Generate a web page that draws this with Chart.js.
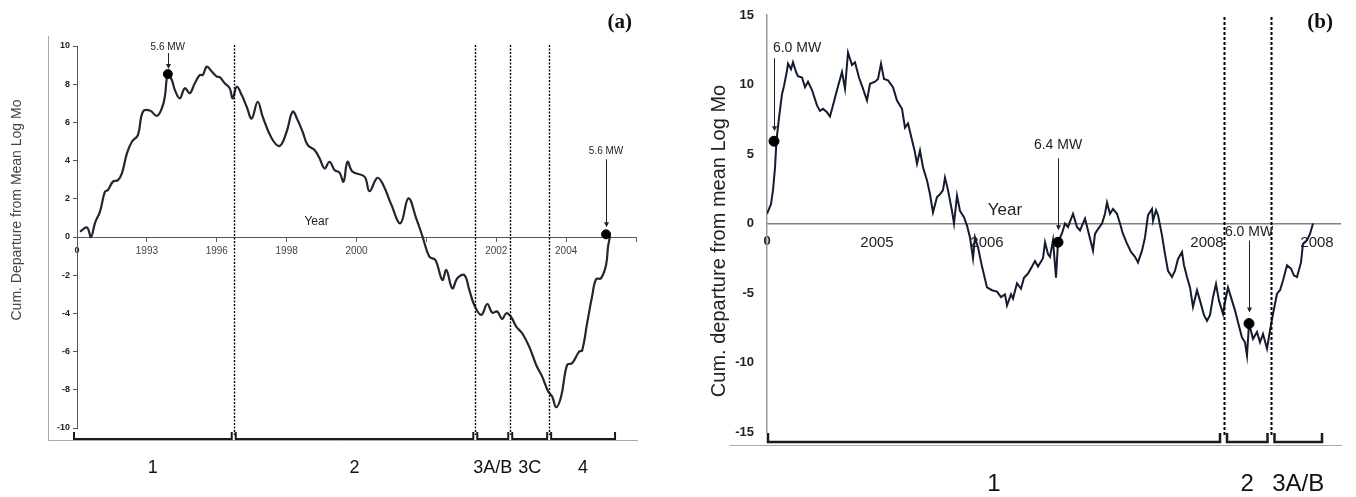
<!DOCTYPE html>
<html>
<head>
<meta charset="utf-8">
<title>Cumulative departure from mean Log Mo</title>
<script src="https://cdn.jsdelivr.net/npm/chart.js@4.4.0/dist/chart.umd.min.js"></script>
<style>
  html, body { margin: 0; padding: 0; background: #fff; }
  #wrap { position: relative; width: 1356px; height: 497px; }
  .panel { position: absolute; top: 0; width: 678px; height: 497px; }
</style>
</head>
<body>
<div id="wrap">
  <div class="panel" style="left:0"><canvas id="chartA" width="678" height="497"></canvas></div>
  <div class="panel" style="left:678px"><canvas id="chartB" width="678" height="497"></canvas></div>
</div>
<script>
// ---- panel (a) ----
// time index along the x axis (0 = start of record, 560 = end of axis)
const timeA = [3,10,14,18,23,28,31,36,41,45, 50,55,61,66,73,80,85,88,91,95,
  98,103,108,113,118,123,126,130,135,140, 143,148,153,156,160,165,170,175,181,186,
  195,203,210,216,221,226,231,238,243,248, 253,258,263,267,271,276,288,293,301,307,
  315,324,332,340,346,353,359,366,370,376, 381,388,393,398,405,411,416,421,426,430,
  435,440,446,453,460,466,472,476,480,485, 491,496,503,506,511,516,520,525,530,532, 534];
const cumA = [0.28,0.5,0.0,0.73,1.33,2.37,2.46,2.9,2.98,3.33, 4.38,4.99,5.34,6.56,6.62,6.34,6.74,7.35,8.53,8.22,
  7.7,7.26,7.79,7.53,8.05,8.48,8.48,8.92,8.66,8.4, 8.37,8.05,7.79,7.26,7.87,7.43,6.82,6.2,7.08,6.3,
  5.17,4.77,5.51,6.56,6.13,5.51,4.82,4.55,4.12,3.59, 3.94,3.51,3.37,2.9,3.94,3.42,3.16,2.4,3.1,2.7,
  1.68,0.72,2.02,0.95,0.05,-1.03,-1.2,-2.25,-1.73,-2.69, -2.16,-1.99,-2.77,-3.56,-4.08,-3.51,-3.96,-3.9,-4.3,-3.99,
  -4.2,-4.69,-5.04,-5.74,-6.7,-7.31,-8.09,-8.35,-8.91,-8.35, -6.7,-6.61,-6.0,-5.95,-4.52,-3.12,-2.21,-2.16,-1.47,-0.51, 0.05];
const xLabelsA = ["0","1993","1996","1998","2000","","2002","2004",""];
const quakeTimeA = [91, 530];
const quakeCumA = [8.53, 0.14];
const quakeNamesA = ["5.6 MW", "5.6 MW"];
const boundsA = [157, 399, 434, 473];
const phasesA = ["1", "2", "3A/B", "3C", "4"];

// ---- panel (b) ----
const timeB = [0,4,6,8,9.5,12,15,17,20,21,
  24,26,29,31,35,38,41,45,50,53,
  56,60,63,66,70,75,78,81,85,88,
  92,96,100,103,108,111,114,117,121,126,
  130,135,138,141,145,148,150,153,156,160,
  163,166,170,173,176,178,181,185,187,190,
  193,197,200,203,206,208,211,215,220,225,
  230,234,238,240,244,246,250,254,257,261,
  265,268,271,276,278,281,283,286,289,291,
  295,298,301,306,310,313,318,321,326,328,
  331,335,338,340,343,346,350,353,356,360,
  364,368,371,375,378,381,385,386,389,391,
  395,398,401,405,408,411,415,417,420,423,
  426,430,433,437,440,443,446,449,452,456,
  458,461,465,468,471,475,478,480,482,486,
  490,493,496,500,503,506,510,513,516,520,
  524,527,530,534,536,540,543,546];
const cumB = [0.7,1.4,2.4,4.0,6.0,7.6,9.3,9.9,11.0,11.5,
  11.1,11.6,10.9,10.6,10.5,9.8,10.2,9.6,8.5,8.1,
  8.25,8.0,7.7,8.5,9.6,10.9,9.7,12.3,11.4,11.6,
  10.5,9.7,8.85,10.05,10.2,10.4,11.5,10.4,10.3,9.8,
  8.85,8.25,6.9,7.2,6.0,5.1,4.3,5.25,4.05,3.1,
  2.1,0.8,1.9,2.1,2.4,3.3,2.4,0.9,0.0,2.0,
  0.9,0.45,-0.15,-1.0,-2.5,-1.0,-1.7,-3.1,-4.6,-4.8,
  -4.9,-5.3,-5.1,-5.9,-5.1,-5.4,-4.3,-4.7,-3.9,-3.6,
  -3.1,-2.7,-3.1,-2.5,-1.35,-2.2,-2.4,-1.2,-3.9,-1.35,
  -0.7,0.0,-0.25,0.7,-0.25,-0.5,0.35,-0.5,-1.95,-0.75,
  -0.4,0.0,0.7,1.5,0.7,1.05,0.7,0.0,-0.75,-1.45,
  -2.05,-2.4,-2.8,-1.95,-1.0,0.6,1.05,0.2,0.95,0.6,
  -0.85,-2.2,-3.4,-3.85,-3.4,-2.55,-2.05,-3.0,-3.85,-4.6,
  -6.0,-4.8,-5.55,-6.6,-7.0,-6.6,-5.3,-4.35,-5.55,-6.5,
  -5.65,-4.6,-5.55,-6.25,-7.1,-8.2,-8.55,-9.5,-7.2,-8.3,
  -7.8,-8.55,-7.95,-9.0,-7.7,-6.5,-5.05,-4.8,-4.1,-3.0,
  -3.25,-3.75,-3.85,-2.8,-1.45,-1.2,-0.75,0.0];
const xLabelsB = ["0","2005","2006","","2008","2008"];
const quakeTimeB = [7, 291, 482];
const quakeCumB = [5.92, -1.35, -7.2];
const quakeNamesB = ["6.0 MW", "6.4 MW", "6.0 MW"];
const boundsB = [456.5, 504];
const phasesB = ["1", "2", "3A/B"];

Chart.defaults.font.family = "'Liberation Sans', Arial, sans-serif";
Chart.defaults.color = '#222';

function toPoints(xs, ys) {
  const n = Math.min(xs.length, ys.length);
  const pts = [];
  for (let i = 0; i < n; i++) pts.push({x: xs[i], y: ys[i]});
  return pts;
}

// draws the frame, dashed phase lines, brackets, quake arrows and free text
const decorPlugin = {
  id: 'decor',
  afterDatasetsDraw(chart, args, o) {
    const {ctx, chartArea: ca, scales: {x, y}} = chart;
    ctx.save();

    // light frame
    ctx.strokeStyle = '#a9a9a9';
    ctx.lineWidth = 1;
    const fx = Math.round(ca.left + o.frame.left) + 0.5;
    const fy = Math.round(ca.bottom + o.frame.bottom) + 0.5;
    ctx.beginPath();
    if (o.frame.side) { ctx.moveTo(fx, ca.top + o.frame.top); ctx.lineTo(fx, fy); }
    ctx.moveTo(fx, fy); ctx.lineTo(ca.right + 2, fy);
    ctx.stroke();

    // dashed phase boundaries
    ctx.strokeStyle = '#000';
    ctx.lineWidth = o.dash.width;
    ctx.setLineDash(o.dash.pattern);
    o.bounds.forEach(b => {
      const px = Math.round(x.getPixelForValue(b)) + 0.5;
      ctx.beginPath();
      ctx.moveTo(px, ca.top + o.dash.top);
      ctx.lineTo(px, ca.bottom + o.dash.bottom);
      ctx.stroke();
    });
    ctx.setLineDash([]);

    // phase brackets and their names
    const edges = [o.phaseStart].concat(o.bounds, [o.phaseEnd]);
    const by = ca.bottom + o.bracket.y;
    ctx.strokeStyle = '#1a1a1a';
    ctx.fillStyle = '#111';
    ctx.lineWidth = o.bracket.width;
    ctx.font = o.bracket.font;
    ctx.textAlign = 'center';
    ctx.textBaseline = 'middle';
    o.phases.forEach((name, i) => {
      const x1 = x.getPixelForValue(edges[i]) + (i > 0 ? o.bracket.gap : 0);
      const x2 = x.getPixelForValue(edges[i + 1]) - (i < o.phases.length - 1 ? o.bracket.gap : 0);
      ctx.beginPath();
      ctx.moveTo(x1, by - o.bracket.tick);
      ctx.lineTo(x1, by);
      ctx.lineTo(x2, by);
      ctx.lineTo(x2, by - o.bracket.tick);
      ctx.stroke();
      ctx.fillText(name, (x1 + x2) / 2, ca.bottom + o.bracket.labelY);
    });

    // earthquake labels with arrows
    const meta = chart.getDatasetMeta(0);
    ctx.font = o.quake.font;
    ctx.fillStyle = '#222';
    ctx.strokeStyle = '#222';
    ctx.lineWidth = 1;
    meta.data.forEach((pt, i) => {
      const p = o.quake.place[i];
      const ty = pt.y - p.rise;
      ctx.fillText(o.quake.names[i], pt.x + p.dx, ty);
      const ax = Math.round(pt.x) + 0.5;
      const y2 = pt.y - p.stop;
      ctx.beginPath();
      ctx.moveTo(ax, ty + p.gap);
      ctx.lineTo(ax, y2 - 4);
      ctx.stroke();
      ctx.beginPath();
      ctx.moveTo(ax - 2.5, y2 - 5);
      ctx.lineTo(ax + 2.5, y2 - 5);
      ctx.lineTo(ax, y2);
      ctx.closePath();
      ctx.fill();
    });

    // "Year" beside the zero line
    ctx.font = o.year.font;
    ctx.fillStyle = '#222';
    ctx.fillText('Year', x.getPixelForValue(o.year.at), y.getPixelForValue(0) - o.year.rise);

    // panel letter
    ctx.font = 'bold 21px "Liberation Serif", serif';
    ctx.textAlign = 'right';
    ctx.fillStyle = '#111';
    ctx.fillText(o.letter, ca.right + o.letterDx, 23);

    // y title
    ctx.save();
    ctx.translate(o.ytitle.x, o.ytitle.y);
    ctx.rotate(-Math.PI / 2);
    ctx.textAlign = 'center';
    ctx.font = o.ytitle.font;
    ctx.fillStyle = o.ytitle.color;
    ctx.fillText(o.ytitle.text, 0, 0);
    ctx.restore();

    ctx.restore();
  }
};

new Chart(document.getElementById('chartA'), {
  type: 'scatter',
  plugins: [decorPlugin],
  data: {
    datasets: [{
      data: toPoints(quakeTimeA, quakeCumA),
      backgroundColor: '#000',
      borderColor: '#000',
      pointRadius: 4.5
    }, {
      data: toPoints(timeA, cumA),
      showLine: true,
      borderColor: '#23262f',
      borderWidth: 2.2,
      tension: 0.4,
      pointRadius: 0
    }]
  },
  options: {
    responsive: false,
    animation: false,
    layout: { padding: { left: 0, right: 42, top: 46, bottom: 69 } },
    plugins: {
      legend: { display: false },
      tooltip: { enabled: false },
      decor: {
        frame: { left: -29, top: -10, bottom: 12, side: true },
        dash: { width: 1.4, pattern: [2, 1.5], top: -1, bottom: 7 },
        bounds: boundsA,
        phaseStart: -3,
        phaseEnd: 539,
        phases: phasesA,
        bracket: { y: 11, tick: 7, gap: 2, width: 2, font: '18px "Liberation Sans", Arial', labelY: 40 },
        quake: {
          names: quakeNamesA,
          font: '10px "Liberation Sans", Arial',
          place: [{ rise: 27, dx: 0, gap: 6, stop: 5 }, { rise: 83, dx: 0, gap: 8, stop: 7 }]
        },
        year: { at: 240, rise: 15, font: '12px "Liberation Sans", Arial' },
        letter: '(a)',
        letterDx: -4,
        ytitle: { x: 17, y: 210, text: 'Cum. Departure from Mean Log Mo', font: '14px "Liberation Sans", Arial', color: '#444' }
      }
    },
    scales: {
      x: {
        type: 'linear',
        position: { y: 0 },
        min: 0,
        max: 560,
        afterFit: s => { s.height = 0; },
        ticks: {
          stepSize: 70,
          autoSkip: false,
          maxRotation: 0,
          padding: 4,
          callback: (v, i) => xLabelsA[i] || '',
          font: c => c.index === 0 ? { size: 9, weight: 'bold' } : { size: 10 },
          color: c => c.index === 0 ? '#222' : '#444'
        },
        grid: { drawOnChartArea: false, tickLength: 4, color: '#666' },
        border: { color: '#555', width: 1 }
      },
      y: {
        min: -10,
        max: 10,
        afterFit: s => { s.width = 77; },
        ticks: { stepSize: 2, padding: 3, font: { size: 9, weight: 'bold' }, color: '#222' },
        grid: { drawOnChartArea: false, tickLength: 4, color: '#555' },
        border: { color: '#555', width: 1 }
      }
    }
  }
});

new Chart(document.getElementById('chartB'), {
  type: 'scatter',
  plugins: [decorPlugin],
  data: {
    datasets: [{
      data: toPoints(quakeTimeB, quakeCumB),
      backgroundColor: '#000',
      borderColor: '#000',
      pointRadius: 5
    }, {
      data: toPoints(timeB, cumB),
      showLine: true,
      borderColor: '#141a30',
      borderWidth: 2,
      tension: 0,
      pointRadius: 0
    }]
  },
  options: {
    responsive: false,
    animation: false,
    layout: { padding: { left: 0, right: 16, top: 15, bottom: 65 } },
    plugins: {
      legend: { display: false },
      tooltip: { enabled: false },
      decor: {
        frame: { left: -38, top: 0, bottom: 13, side: false },
        dash: { width: 2, pattern: [3, 2], top: 2, bottom: 5 },
        bounds: boundsB,
        phaseStart: 1,
        phaseEnd: 555,
        phases: phasesB,
        bracket: { y: 10, tick: 9, gap: 3.5, width: 2.5, font: '24px "Liberation Sans", Arial', labelY: 52 },
        quake: {
          names: quakeNamesB,
          font: '14px "Liberation Sans", Arial',
          place: [{ rise: 93, dx: 23, gap: 10, stop: 10 }, { rise: 97, dx: 0, gap: 13, stop: 12 }, { rise: 91, dx: 0, gap: 8, stop: 11 }]
        },
        year: { at: 238, rise: 13, font: '17px "Liberation Sans", Arial' },
        letter: '(b)',
        letterDx: -7,
        ytitle: { x: 41, y: 241, text: 'Cum. departure from mean Log Mo', font: '20px "Liberation Sans", Arial', color: '#222' }
      }
    },
    scales: {
      x: {
        type: 'linear',
        position: { y: 0 },
        min: 0,
        max: 573,
        afterFit: s => { s.height = 0; },
        afterBuildTicks: s => { s.ticks = [0, 110, 220, 330, 440, 550].map(v => ({ value: v })); },
        ticks: {
          autoSkip: false,
          maxRotation: 0,
          padding: 2,
          callback: (v, i) => xLabelsB[i] || '',
          font: c => c.index === 0 ? { size: 13, weight: 'bold' } : { size: 15 },
          color: '#222'
        },
        grid: { display: false },
        border: { color: '#808080', width: 1.5 }
      },
      y: {
        min: -15,
        max: 15,
        afterFit: s => { s.width = 89; },
        ticks: { stepSize: 5, padding: 3, font: { size: 13, weight: 'bold' }, color: '#222' },
        // invisible tick marks keep the labels away from the axis line
        grid: { drawOnChartArea: false, tickLength: 10, color: 'rgba(0,0,0,0)' },
        border: { color: '#999', width: 1.5 }
      }
    }
  }
});
</script>
</body>
</html>
